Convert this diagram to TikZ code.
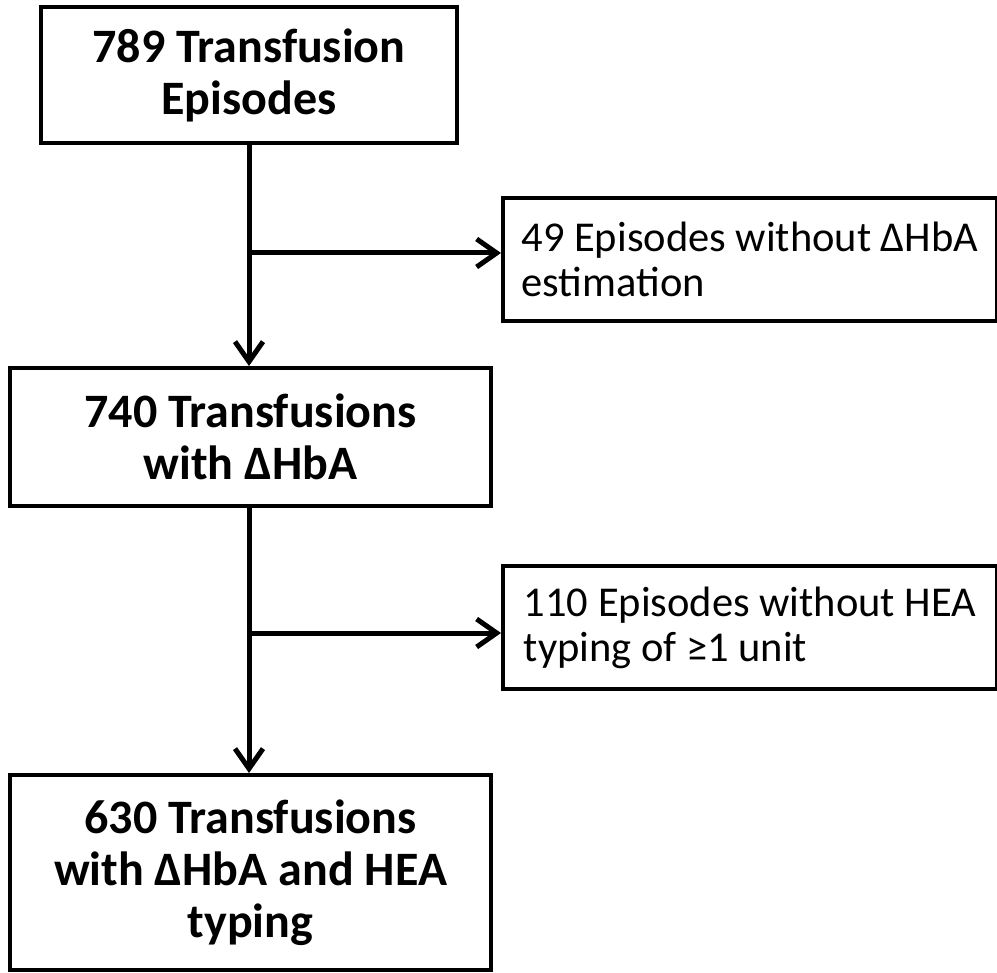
\documentclass[tikz,border=0pt]{standalone}
\usepackage{fontspec}
\setmainfont{Carlito}
\usetikzlibrary{arrows.meta}
\begin{document}
\begin{tikzpicture}[x=1pt,y=-1pt,
  mainbox/.style={draw, line width=4pt, align=center, font=\fontsize{48}{52}\selectfont\bfseries, inner sep=0pt},
  sidebox/.style={draw, line width=4pt, align=left, font=\fontsize{42.5}{45}\selectfont, inner sep=0pt},
  conn/.style={line width=5pt},
  arr/.style={conn, -{Straight Barb[length=20pt,width=28pt]}}]
\useasboundingbox (0,0) rectangle (997,973);
\node[mainbox, minimum width=416pt, minimum height=136pt] (b1) at (249,75) {789 Transfusion\\Episodes};
\node[sidebox, minimum width=494pt, minimum height=123pt] (b2) at (750,259.5) {49 Episodes without ΔHbA\\estimation};
\node[mainbox, minimum width=481pt, minimum height=138pt] (b3) at (250.5,437) {740 Transfusions\\with ΔHbA};
\node[sidebox, minimum width=494pt, minimum height=123pt] (b4) at (750,627.5) {110 Episodes without HEA\\typing of ≥1 unit};
\node[mainbox, minimum width=481pt, minimum height=195pt] (b5) at (250.5,872.5) {630 Transfusions\\with ΔHbA and HEA\\typing};
\coordinate (j1) at (249,253);
\coordinate (j2) at (249,633);
\draw[arr] (b1.south) -- (b1.south |- b3.north);
\draw[arr] (j1) -- (j1 -| b2.west);
\draw[arr] (b1.south |- b3.south) -- (b1.south |- b5.north);
\draw[arr] (j2) -- (j2 -| b4.west);
\end{tikzpicture}
\end{document}
